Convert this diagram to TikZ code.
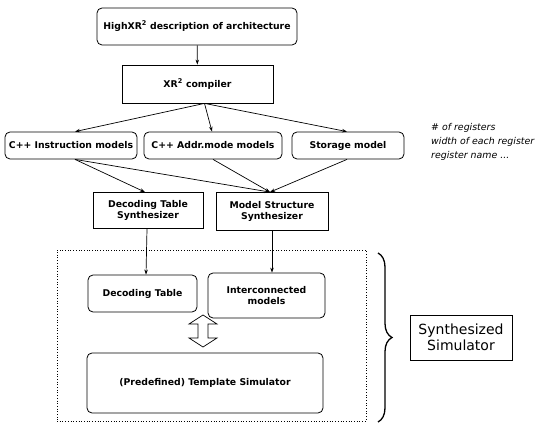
\documentclass[tikz,border=0pt]{standalone}
\usepackage{fontspec}
\setmainfont{DejaVu Sans}
\usetikzlibrary{arrows.meta,decorations.pathreplacing}
\begin{document}
\begin{tikzpicture}[x=1pt,y=-1pt,
  box/.style={draw,line width=0.8pt,inner sep=1pt,align=center,font=\fontsize{9.3}{11.5}\selectfont\bfseries},
  rbox/.style={box,rounded corners=5pt},
  arr/.style={line width=0.7pt,-{Stealth[length=5pt,width=3.5pt]}},
  note/.style={font=\fontsize{9.4}{11}\selectfont\itshape,anchor=west,inner sep=0pt}]
\useasboundingbox (0,0) rectangle (539,425);
\node[rbox,minimum width=200pt,minimum height=37pt] (high) at (197,26.5) {HighXR\textsuperscript{2} description of architecture};
\node[box,minimum width=151pt,minimum height=38pt] (comp) at (197.5,84) {XR\textsuperscript{2} compiler};
\node[rbox,minimum width=132pt,minimum height=27pt] (cim) at (71,145.5) {C++ Instruction models};
\node[rbox,minimum width=138pt,minimum height=27pt] (cam) at (213,145.5) {C++ Addr.mode models};
\node[rbox,minimum width=112pt,minimum height=27pt] (stor) at (348,145.5) {Storage model};
\node[note] (n1) at (431,128) {\# of registers};
\node[note] (n2) at (431,142) {width of each register};
\node[note] (n3) at (431,156) {register name ...};
\node[box,minimum width=110pt,minimum height=36pt] (dts) at (148,210.5) {Decoding Table\\Synthesizer};
\node[box,minimum width=112pt,minimum height=38pt] (mss) at (272,211.5) {Model Structure\\Synthesizer};
\node[draw,dotted,line width=0.7pt,minimum width=309pt,minimum height=171pt] (sim) at (211.5,335.5) {};
\node[rbox,minimum width=109pt,minimum height=37pt] (dt) at (142.5,293.5) {Decoding Table};
\node[rbox,minimum width=117pt,minimum height=45pt] (ic) at (266.5,295.5) {Interconnected\\models};
\node[rbox,minimum width=236pt,minimum height=60pt] (tmpl) at (205,383) {(Predefined) Template Simulator};
\node[draw,line width=0.8pt,minimum width=102pt,minimum height=45pt,align=center,font=\fontsize{14}{16}\selectfont] (ss) at (461,337.5) {Synthesized\\Simulator};
\draw[arr] (high) -- (comp);
\coordinate (cs) at ([xshift=7pt]comp.south);
\draw[arr] (cs) -- ([xshift=4pt]cim.north);
\draw[arr] (cs) -- ([xshift=-1pt]cam.north);
\draw[arr] (cs) -- ([xshift=-1pt]stor.north);
\coordinate (cb) at ([xshift=4pt]cim.south);
\draw[arr] (cb) -- ([xshift=-3pt]dts.north);
\draw[arr] (cb) -- ([xshift=-2pt]mss.north);
\draw[arr] (cam.south) -- ([xshift=-2pt]mss.north);
\draw[arr] ([xshift=-1pt]stor.south) -- ([xshift=-2pt]mss.north);
\draw[arr] ([xshift=-1pt]dts.south) -- ([xshift=3.5pt]dt.north);
\draw[arr] (mss.south) -- ([xshift=5.5pt]ic.north);
% hollow double arrow
\draw[line width=0.7pt] (203,315) -- (217,324) -- (208,324) -- (208,338) -- (217,338) -- (203,347)
  -- (189,338) -- (198,338) -- (198,324) -- (189,324) -- cycle;
% brace
\draw[line width=1.3pt,decorate,decoration={brace,amplitude=14pt}] (378,253) -- (378,422);
\end{tikzpicture}
\end{document}
